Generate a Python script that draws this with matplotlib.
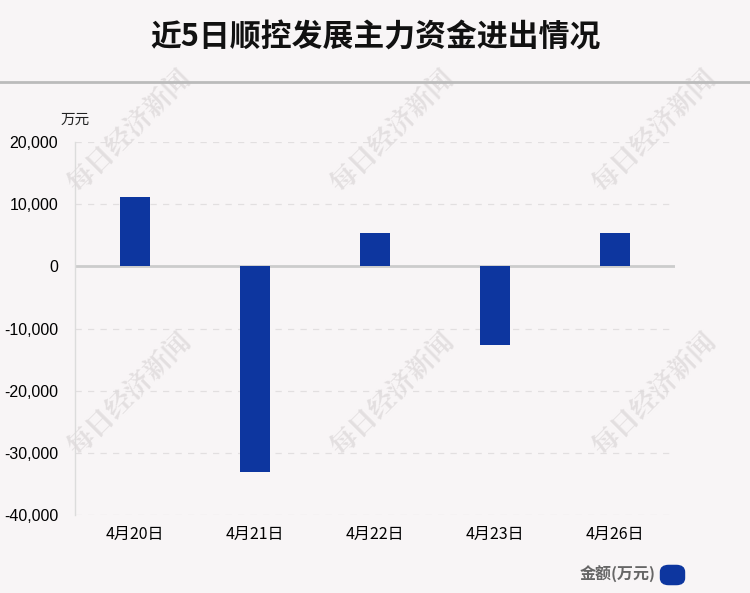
import matplotlib.pyplot as plt
from matplotlib.patches import FancyBboxPatch
from matplotlib.lines import Line2D
from matplotlib.ticker import FuncFormatter

plt.rcParams['font.family'] = ['Liberation Sans', 'Noto Sans CJK SC', 'DejaVu Sans']

# data (万元)
dates = ['4月20日', '4月21日', '4月22日', '4月23日', '4月26日']
amounts = [11200, -33000, 5300, -12600, 5300]
yticks = [-40000, -30000, -20000, -10000, 0, 10000, 20000]

BG = '#f8f5f6'
BLUE = '#0d369f'

fig = plt.figure(figsize=(7.5, 5.93), dpi=100, facecolor=BG)
ax = fig.add_axes([0.1, 0.1315, 0.8, 0.629])
ax.set_facecolor(BG)

x = range(len(dates))
ax.bar(x, amounts, width=0.25, color=BLUE, zorder=3)

ax.set_xlim(-0.5, len(dates) - 0.5)
ax.set_ylim(-40000, 20000)
ax.set_yticks(yticks)
ax.yaxis.set_major_formatter(FuncFormatter(lambda v, p: f'{int(v):,}'))
ax.set_xticks(list(x))
ax.set_xticklabels(dates, fontsize=11.5, family=['Noto Sans CJK SC'])
ax.tick_params(axis='y', labelsize=11.5, length=0, pad=12)
ax.tick_params(axis='x', length=0, pad=8)

for v in yticks:
    if v != 0:
        ax.axhline(v, color='#e2dfe0', lw=0.9, ls=(0, (5, 5)), zorder=1)
ax.axhline(0, color='#cccccc', lw=2, zorder=2)

for s in ['top', 'right', 'bottom']:
    ax.spines[s].set_visible(False)
ax.spines['left'].set_color('#dcdcdc')
ax.spines['left'].set_linewidth(1)

# title and header rule
fig.text(0.5, 0.936, '近5日顺控发展主力资金进出情况', ha='center', va='center',
         fontsize=22.2, fontweight='bold', family=['Noto Sans CJK SC'], color='#111111')
fig.add_artist(Line2D([0, 1], [0.862, 0.862], color='#bbbbbb', lw=2,
                      transform=fig.transFigure))

fig.text(75 / 750, 1 - 120 / 593, '万元', ha='center', va='center',
         fontsize=10.5, family=['Noto Sans CJK SC'], color='#222222')

# watermarks
for cx in [130, 393, 655]:
    for cy in [132, 395]:
        fig.text(cx / 750, 1 - cy / 593, '每日经济新闻', ha='center', va='center',
                 rotation=45, fontsize=19.5, fontweight='bold',
                 family=['Noto Serif CJK SC', 'Noto Sans CJK SC'],
                 color='#dedadb', alpha=0.8, zorder=0)

# legend
fig.text(656 / 750, 1 - 574 / 593, '金额(万元)', ha='right', va='center',
         fontsize=11.5, fontweight='bold', family=['Noto Sans CJK SC'], color='#666666')
fig.add_artist(FancyBboxPatch((665 / 750, 1 - 581 / 593), 15 / 750, 12 / 593,
                              boxstyle='round,pad=0.006,rounding_size=0.011',
                              transform=fig.transFigure, color=BLUE))

fig.savefig('out.png', dpi=100, facecolor=BG)
